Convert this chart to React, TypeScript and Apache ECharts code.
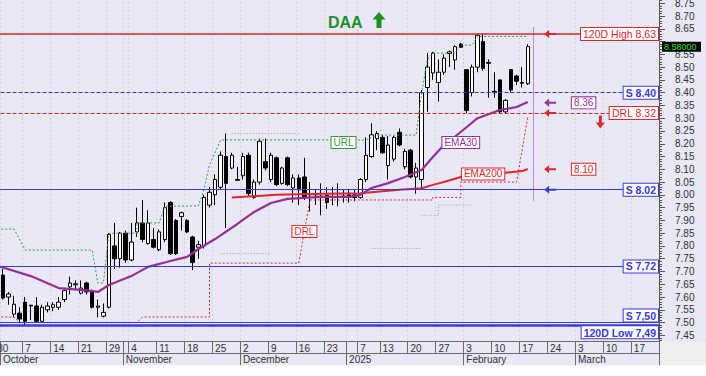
import React, { useEffect, useRef } from "react";
import * as echarts from "echarts";

// ---------- categories (trading days, incl. future empty days) ----------
const START = "2024-09-30";
const END = "2025-03-21";
const HOLIDAYS = ["2024-10-28", "2024-12-25", "2024-12-26", "2024-12-31", "2025-01-01", "2025-01-06"];
const SUPPRESSED_WEEK_TICKS = ["2024-12-30"];
const MONTH_NAMES = ["January", "February", "March", "April", "May", "June", "July", "August", "September", "October", "November", "December"];

// ---------- OHLC  [open, close, low, high] ----------
const ohlc: number[][] = [
  [7.72, 7.69, 7.67, 7.74], [7.686, 7.596, 7.59, 7.71], [7.6, 7.612, 7.57, 7.62], [7.533, 7.572, 7.52, 7.605],
  [7.537, 7.514, 7.5, 7.56], [7.58, 7.505, 7.49, 7.6], [7.565, 7.568, 7.51, 7.57], [7.565, 7.505, 7.5, 7.6],
  [7.505, 7.56, 7.5, 7.57], [7.55, 7.565, 7.54, 7.58], [7.56, 7.57, 7.545, 7.58], [7.56, 7.58, 7.55, 7.6],
  [7.59, 7.625, 7.58, 7.63], [7.64, 7.655, 7.61, 7.68], [7.648, 7.652, 7.63, 7.665], [7.615, 7.635, 7.61, 7.665],
  [7.655, 7.62, 7.61, 7.66], [7.625, 7.56, 7.555, 7.63], [7.56, 7.565, 7.52, 7.59], [7.525, 7.54, 7.52, 7.575],
  [7.56, 7.845, 7.555, 7.85], [7.8, 7.75, 7.71, 7.89], [7.75, 7.85, 7.715, 7.855], [7.85, 7.745, 7.735, 7.86],
  [7.745, 7.815, 7.74, 7.89], [7.855, 7.89, 7.835, 7.95], [7.89, 7.825, 7.815, 7.98], [7.81, 7.89, 7.805, 7.94],
  [7.825, 7.795, 7.79, 7.87], [7.785, 7.855, 7.78, 7.865], [7.825, 7.95, 7.815, 7.97], [7.97, 7.77, 7.765, 7.975],
  [7.9, 7.77, 7.765, 7.905], [7.915, 7.93, 7.86, 7.935], [7.9, 7.855, 7.85, 7.905], [7.835, 7.735, 7.705, 7.84],
  [7.795, 7.805, 7.75, 7.82], [7.8, 7.99, 7.79, 8.0], [7.96, 8.01, 7.95, 8.03], [8.0, 8.06, 7.96, 8.08],
  [8.03, 8.155, 8.02, 8.17], [8.15, 8.045, 7.87, 8.24], [8.105, 8.155, 8.1, 8.165], [8.06, 8.057, 8.055, 8.11],
  [8.075, 8.15, 8.06, 8.165], [8.155, 8.005, 7.995, 8.165], [7.99, 8.05, 7.985, 8.06], [8.05, 8.21, 8.04, 8.22],
  [8.13, 8.105, 8.095, 8.22], [8.06, 8.155, 8.05, 8.165], [8.145, 8.04, 8.035, 8.15], [8.045, 8.105, 8.04, 8.11],
  [8.145, 8.04, 8.035, 8.15], [8.027, 8.066, 7.97, 8.08], [8.066, 8.02, 7.96, 8.08], [8.07, 7.99, 7.98, 8.145],
  [8.0, 8.005, 7.935, 8.05], [8.0, 8.005, 7.96, 8.02], [7.99, 7.995, 7.92, 8.045], [7.998, 7.97, 7.945, 8.03],
  [7.99, 7.992, 7.96, 8.03], [7.99, 7.99, 7.955, 8.045], [7.995, 7.99, 7.97, 8.02], [8.0, 7.99, 7.97, 8.02],
  [8.0, 7.99, 7.975, 8.02], [7.99, 8.06, 7.985, 8.065], [8.06, 8.155, 8.05, 8.225], [8.15, 8.235, 8.145, 8.28],
  [8.22, 8.24, 8.175, 8.25], [8.225, 8.165, 8.16, 8.235], [8.115, 8.195, 8.06, 8.23], [8.14, 8.225, 8.13, 8.23],
  [8.245, 8.195, 8.19, 8.26], [8.11, 8.17, 8.1, 8.18], [8.175, 8.07, 8.065, 8.18], [8.07, 8.105, 8.005, 8.125],
  [8.06, 8.4, 8.02, 8.41], [8.42, 8.5, 8.325, 8.555], [8.477, 8.555, 8.45, 8.56], [8.44, 8.48, 8.365, 8.53],
  [8.48, 8.535, 8.47, 8.55], [8.553, 8.56, 8.5, 8.565], [8.528, 8.58, 8.49, 8.585], [8.59, 8.578, 8.575, 8.595],
  [8.49, 8.33, 8.32, 8.49], [8.4, 8.5, 8.385, 8.51], [8.5, 8.625, 8.48, 8.63], [8.6, 8.495, 8.485, 8.63],
  [8.518, 8.515, 8.38, 8.53], [8.405, 8.4, 8.38, 8.48], [8.45, 8.325, 8.32, 8.45], [8.325, 8.37, 8.32, 8.375],
  [8.49, 8.41, 8.4, 8.49], [8.465, 8.445, 8.43, 8.47], [8.44, 8.437, 8.42, 8.5], [8.435, 8.58, 8.43, 8.59],
];

// ---------- indicator lines, [dayIndex, value] ----------
const ema30Pts = [[0, 7.722], [6, 7.682], [11, 7.635], [15, 7.628], [18, 7.62], [20, 7.647], [24, 7.682], [27, 7.718],
  [31, 7.741], [34, 7.757], [36, 7.788], [39, 7.827], [43, 7.886], [46, 7.933], [49, 7.968], [52, 7.984], [58, 7.992],
  [63, 7.992], [65, 8.0], [67, 8.027], [70, 8.046], [73, 8.07], [76, 8.097], [78, 8.148], [80, 8.195], [83, 8.246],
  [86, 8.3], [90, 8.332], [93, 8.344], [95, 8.363]];
const ema200Pts = [[42, 7.99], [50, 8.0], [56, 8.003], [65, 8.006], [72, 8.02], [76, 8.026], [78, 8.039], [80, 8.05],
  [83, 8.07], [86, 8.078], [90, 8.085], [94, 8.093], [95, 8.101]];
const urlPts = [[0, 7.866], [3, 7.866], [5, 7.784], [17, 7.784], [18, 7.655], [19, 7.655], [20, 7.85], [25, 7.85],
  [25, 7.89], [29, 7.89], [30, 7.956], [36, 7.956], [37, 8.02], [38, 8.117], [40, 8.215], [66, 8.215], [68, 8.234],
  [75, 8.234], [76, 8.4], [77, 8.528], [78, 8.555], [82, 8.555], [83, 8.586], [85, 8.586], [86, 8.62], [95, 8.62]];
const drlPts = [[0, 7.522], [3, 7.522], [4, 7.5], [25, 7.5], [26, 7.522], [38, 7.522], [38, 7.733], [54, 7.733],
  [56, 7.98], [78, 7.98], [78, 7.99], [83, 7.99], [83, 8.05], [93, 8.05], [95, 8.305]];
const pinkPts = [[42, 8.24], [54, 8.24]];
const graySegs = [
  [[40, 7.77], [49, 7.77]],
  [[67, 7.79], [76, 7.79]],
  [[76, 7.92], [79, 7.92], [79, 7.96], [85, 7.96]],
];

// ---------- levels ----------
const HIGH120 = 8.63, LOW120 = 7.49, LAST = 8.58;
const LAST_TEXT = "8.58000";
const S1 = 8.40, DRL = 8.32, S2 = 8.02, S3 = 7.72, S4 = 7.50;
const EMA30_LAST = 8.36, EMA200_LAST = 8.10;
const HIDDEN_TICK = 8.60; // covered by the last-price box

const RED = "#e3262b", BLUE = "#3a3ae0", PURPLE = "#962f96", GREEN = "#3c9c3c";
const FONT = "'Liberation Sans', Arial, sans-serif";

function buildDates(): string[] {
  const out: string[] = [];
  const [ys, ms, ds] = START.split("-").map(Number);
  const [ye, me, de] = END.split("-").map(Number);
  const d = new Date(Date.UTC(ys, ms - 1, ds));
  const end = Date.UTC(ye, me - 1, de);
  while (d.getTime() <= end) {
    const wd = d.getUTCDay();
    const s = d.toISOString().slice(0, 10);
    if (wd !== 0 && wd !== 6 && !HOLIDAYS.includes(s)) out.push(s);
    d.setUTCDate(d.getUTCDate() + 1);
  }
  return out;
}

export default function App() {
  const ref = useRef<HTMLDivElement>(null);
  useEffect(() => {
    document.body.style.margin = "0";
    const dates = buildDates();
    const dow = (s: string) => new Date(s + "T00:00:00Z").getUTCDay();
    const weekStarts = new Set<number>();
    const monthStarts = new Set<number>();
    dates.forEach((s, i) => {
      if (i === 0 || dow(s) < dow(dates[i - 1])) {
        if (!SUPPRESSED_WEEK_TICKS.includes(s)) weekStarts.add(i);
      }
      if (i > 0 && s.slice(5, 7) !== dates[i - 1].slice(5, 7)) monthStarts.add(i);
    });
    const row1Ticks = new Set<number>([...weekStarts, ...monthStarts]);

    const chart = echarts.init(ref.current!, undefined, { renderer: "svg" });

    const arrow = (i: number, v: number, color: string) => ({
      coord: [dates[i], v],
      symbol: "path://M0,4L5,0L5,3L12,3L12,5L5,5L5,8Z",
      symbolSize: [12, 8],
      itemStyle: { color },
      label: { show: false },
    });
    const boxLabel = (i: number, v: number, text: string, color: string, bold = false) => ({
      coord: [dates[i], v],
      symbol: "rect",
      symbolSize: 1,
      itemStyle: { color: "rgba(0,0,0,0)" },
      label: {
        show: true, position: "inside", formatter: text, color, fontSize: 10,
        fontWeight: bold ? "bold" : "normal",
        backgroundColor: "#fff", borderColor: color, borderWidth: 1, padding: [1, 2, 0, 2],
      },
    });
    const hLine = (v: number, text: string, color: string, width: number, type: string, bold: boolean, position = "insideEnd") => ({
      yAxis: v,
      lineStyle: { color, width, type },
      label: {
        show: true, position, formatter: text, color, fontSize: 10.5, fontWeight: bold ? "bold" : "normal",
        backgroundColor: "#fff", borderColor: color, borderWidth: 1, padding: [1, 2, 0, 2], distance: 1,
      },
    });

    const lineSeries = (data: number[][], color: string, width: number, type: any, extra: any = {}) => ({
      type: "line", data, symbol: "none", silent: true, z: 3,
      lineStyle: { color, width, type }, ...extra,
    });

    const staticGraphics: any[] = [
      { id: "bottomStrip", type: "rect", z: 100, shape: { x: 0, y: 365.5, width: 706, height: 11 }, style: { fill: "#ffffff" } },
      { id: "corner", type: "rect", z: 100, shape: { x: 660, y: 341.5, width: 46, height: 24 }, style: { fill: "#efefef" } },
      { id: "title", type: "text", z: 100, x: 328, y: 14, style: { text: "DAA", fill: "#1f8f1f", font: `bold 16px ${FONT}` } },
      {
        id: "titleArrow", type: "polygon", z: 100,
        shape: { points: [[379, 12], [385.5, 19.5], [381.5, 19.5], [381.5, 28], [376.5, 28], [376.5, 19.5], [372.5, 19.5]] },
        style: { fill: "#1f8f1f" },
      },
    ];

    chart.setOption({
      animation: false,
      backgroundColor: "#e8e8f7",
      textStyle: { fontFamily: FONT },
      grid: { left: -5.5, width: 664.5, top: -9.55, height: 357.7, outerBoundsMode: "none", containLabel: false },
      xAxis: [
        {
          type: "category", data: dates, position: "bottom", offset: -7, boundaryGap: true,
          axisLine: { show: true, lineStyle: { color: "#6a6a6a" } },
          axisTick: { show: true, interval: (i: number) => row1Ticks.has(i), length: 11.7, lineStyle: { color: "#6a6a6a" } },
          axisLabel: {
            show: true, interval: (i: number) => weekStarts.has(i), align: "left", margin: 2, fontSize: 10, color: "#333",
            formatter: (v: string) => String(Number(v.slice(8, 10))),
          },
          splitLine: { show: true, interval: (i: number) => row1Ticks.has(i), lineStyle: { color: "#bdbdcc", type: [1, 3], width: 1 } },
        },
        {
          type: "category", data: dates, position: "bottom", offset: 4.7, boundaryGap: true,
          axisLine: { show: true, lineStyle: { color: "#6a6a6a" } },
          axisTick: { show: true, interval: (i: number) => monthStarts.has(i) || i === 1, length: 12.5, lineStyle: { color: "#6a6a6a" } },
          axisLabel: {
            show: true, interval: (i: number) => monthStarts.has(i), align: "left", margin: 2, fontSize: 10, color: "#333",
            formatter: (v: string) => (v.slice(5, 7) === "01" ? v.slice(0, 4) : MONTH_NAMES[Number(v.slice(5, 7)) - 1]),
          },
          splitLine: { show: false },
        },
      ],
      yAxis: {
        type: "value", position: "right", min: 7.4, max: 8.8, interval: 0.05,
        axisLine: { show: true, lineStyle: { color: "#555" } },
        axisTick: { show: true, length: 6, lineStyle: { color: "#555" } },
        minorTick: { show: true, splitNumber: 5, length: 3, lineStyle: { color: "#555" } },
        axisLabel: {
          fontSize: 10, color: "#333", margin: 16,
          formatter: (v: number) => (v < 7.42 || v > 8.78 || Math.abs(v - HIDDEN_TICK) < 0.005 ? "" : v.toFixed(2)),
        },
        splitLine: { show: false },
      },
      series: [
        {
          type: "candlestick", data: ohlc, barWidth: 4, z: 2, silent: true,
          itemStyle: { color: "#ffffff", color0: "#000000", borderColor: "#000000", borderColor0: "#000000", borderWidth: 1 },
          markLine: {
            silent: true, symbol: ["none", "none"], animation: false,
            data: [
              hLine(HIGH120, "120D High 8,63", RED, 1.5, "solid", false),
              hLine(S1, "S 8.40", BLUE, 1, "dashed", true),
              hLine(DRL, "DRL 8.32", RED, 1, "dashed", false),
              hLine(S2, "S 8.02", BLUE, 1, "solid", true),
              hLine(S3, "S 7,72", BLUE, 1, "solid", true),
              hLine(S4, "S 7,50", BLUE, 1, "solid", true, "insideEndTop"),
              hLine(LOW120, "120D Low 7,49", BLUE, 2.5, "solid", true, "insideEndBottom"),
              [
                { coord: [dates[96], 8.655], lineStyle: { color: PURPLE, width: 1, type: "dotted" }, label: { show: false } },
                { coord: [dates[96], 7.975] },
              ],
            ],
          },
          markPoint: {
            silent: true, animation: false,
            data: [
              arrow(99, HIGH120, RED), arrow(99, EMA30_LAST, PURPLE), arrow(99, DRL, RED), arrow(99, EMA200_LAST, RED), arrow(99, S2, BLUE),
              { coord: [dates[108], 8.285], symbol: "path://M3,0L6,0L6,7L9,7L4.5,13L0,7L3,7Z", symbolSize: [9, 13], itemStyle: { color: RED }, label: { show: false } },
              boxLabel(105, EMA30_LAST, "8.36", PURPLE),
              boxLabel(105, EMA200_LAST, "8.10", RED),
              boxLabel(62, 8.205, "URL", GREEN),
              boxLabel(55, 7.857, "DRL", RED),
              boxLabel(83, 8.205, "EMA30", PURPLE),
              boxLabel(87, 8.082, "EMA200", RED),
            ],
          },
        },
        lineSeries(urlPts, GREEN, 1, [2, 2]),
        lineSeries(drlPts, RED, 1, [2, 2]),
        lineSeries(pinkPts, "#e08090", 1, [1, 2]),
        ...graySegs.map((s) => lineSeries(s, "#9a9aa8", 1, [1, 2])),
        lineSeries(ema200Pts, RED, 2, "solid", { z: 4 }),
        lineSeries(ema30Pts, PURPLE, 2.2, "solid", { z: 4 }),
      ],
      graphic: staticGraphics,
    });

    // last-price box on the price axis, placed through the axis scale
    const yLast = chart.convertToPixel({ yAxisIndex: 0 }, LAST) as number;
    chart.setOption({
      graphic: [
        ...staticGraphics,
        { id: "lastBox", type: "rect", z: 110, shape: { x: 662, y: yLast - 5, width: 39, height: 10 }, style: { fill: "#000" } },
        {
          id: "lastText", type: "text", z: 111, x: 664, y: yLast,
          style: { text: LAST_TEXT, fill: "#22e022", font: `9px ${FONT}`, verticalAlign: "middle", align: "left" },
        },
      ],
    });
    return () => chart.dispose();
  }, []);
  return <div ref={ref} style={{ width: 706, height: 376 }} />;
}
